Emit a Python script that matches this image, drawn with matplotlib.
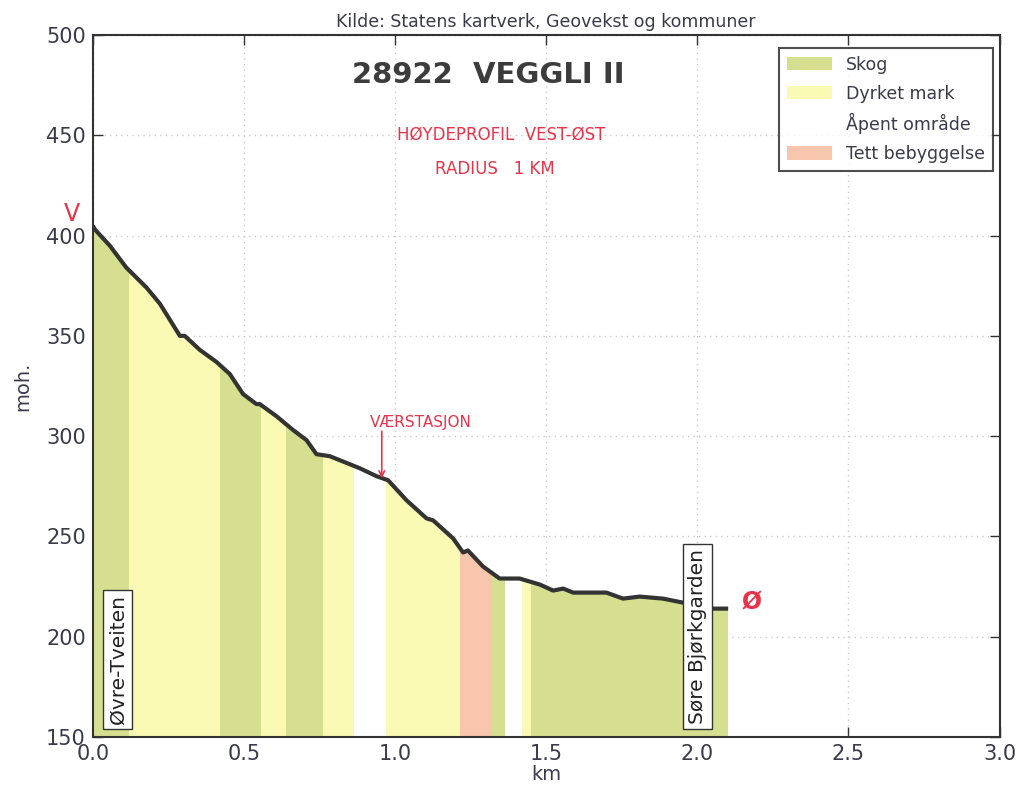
import matplotlib
matplotlib.use("Agg")
import matplotlib.pyplot as plt
from matplotlib.patches import Patch
import numpy as np

# Elevation profile (km, moh.)
dist_km = [0.0, 0.007, 0.056, 0.111, 0.178, 0.222, 0.288, 0.304, 0.354, 0.409,
           0.453, 0.497, 0.541, 0.552, 0.607, 0.663, 0.707, 0.740, 0.784, 0.850,
           0.883, 0.939, 0.977, 1.038, 1.104, 1.126, 1.192, 1.225, 1.241, 1.291,
           1.346, 1.412, 1.479, 1.523, 1.556, 1.589, 1.655, 1.699, 1.754, 1.809,
           1.886, 1.952, 2.030, 2.102]
elev_m = [405, 403, 395, 384, 374, 366, 350, 350, 343, 337,
          331, 321, 316, 316, 310, 303, 298, 291, 290, 286,
          284, 280, 278, 268, 259, 258, 249, 242, 243, 235,
          229, 229, 226, 223, 224, 222, 222, 222, 219, 220,
          219, 217, 214, 214]

# Land-cover segments along the profile
seg_start = [0.0, 0.12, 0.42, 0.555, 0.64, 0.76, 0.865, 0.97, 1.215, 1.32, 1.365, 1.42, 1.45]
seg_end = [0.12, 0.42, 0.555, 0.64, 0.76, 0.865, 0.97, 1.215, 1.32, 1.365, 1.42, 1.45, 2.102]
seg_class = ["Skog", "Dyrket mark", "Skog", "Dyrket mark", "Skog", "Dyrket mark",
             "Åpent område", "Dyrket mark", "Tett bebyggelse", "Skog", "Åpent område",
             "Dyrket mark", "Skog"]

classes = ["Skog", "Dyrket mark", "Åpent område", "Tett bebyggelse"]
class_colors = {"Skog": "#d6df90", "Dyrket mark": "#fafab4",
                "Åpent område": "#ffffff", "Tett bebyggelse": "#f7c6ac"}

places = ["Øvre-Tveiten", "Søre Bjørkgarden"]
place_km = [0.083, 2.0]

fig = plt.figure(figsize=(10.2, 7.99), dpi=100)
ax = fig.add_axes([0.091, 0.0776, 0.889, 0.8786])

ax.set_xlim(0, 3.0)
ax.set_ylim(150, 500)

# polygon under profile used as clip
poly = ax.fill_between(dist_km, 150, elev_m, facecolor="none", edgecolor="none")
clip = poly.get_paths()[0]
for s, e, c in zip(seg_start, seg_end, seg_class):
    sp = ax.axvspan(s, e, facecolor=class_colors[c], edgecolor="none", zorder=1)
    sp.set_clip_path(clip, transform=poly.get_transform())

ax.plot(dist_km, elev_m, color="#333333", lw=3, zorder=3, solid_capstyle="butt")

ax.grid(True, color="#cccccc", linestyle=(0, (1, 3)), lw=1)
ax.set_axisbelow(True)
ax.set_xticks([0.0, 0.5, 1.0, 1.5, 2.0, 2.5, 3.0])
ax.set_yticks([150, 200, 250, 300, 350, 400, 450, 500])
ax.tick_params(direction="in", top=True, right=True, length=7, width=1,
               labelsize=15, labelcolor="#3a3a4a", color="#333333", pad=5)
for sp in ax.spines.values():
    sp.set_color("#333333")
    sp.set_linewidth(1.5)

ax.set_xlabel("km", fontsize=14, color="#3a3a4a", labelpad=1)
ax.set_ylabel("moh.", fontsize=14, color="#3a3a4a", labelpad=10)
ax.set_title("Kilde: Statens kartverk, Geovekst og kommuner", fontsize=12.5,
             color="#3a3a4a", pad=6)

for name, xk in zip(places, place_km):
    ax.text(xk, 156.5, name, rotation=90, ha="center", va="bottom", fontsize=14.5,
            color="#222222", zorder=5,
            bbox=dict(boxstyle="square,pad=0.25", facecolor="white", edgecolor="#333333", lw=1))

handles = [Patch(facecolor=class_colors[c], edgecolor="none", label=c) for c in classes]
leg = ax.legend(handles=handles, loc="upper right", bbox_to_anchor=(0.9923, 0.9815),
                fontsize=12.5, frameon=True, fancybox=False, borderaxespad=0,
                handlelength=2.6, handleheight=0.8, labelspacing=0.62, borderpad=0.45)
leg.get_frame().set_edgecolor("#222222")
leg.get_frame().set_linewidth(1.5)
for t in leg.get_texts():
    t.set_color("#3a3a4a")

# handwritten annotations
ax.text(1.31, 480, "28922  VEGGLI II", ha="center", va="center", fontsize=21,
        color="#3c3c3c", fontweight="bold", zorder=6)
ax.text(1.35, 450.5, "HØYDEPROFIL  VEST-ØST", ha="center", va="center", fontsize=12,
        color="#e8334a", zorder=6)
ax.text(1.33, 433, "RADIUS   1 KM", ha="center", va="center", fontsize=12,
        color="#e8334a", zorder=6)
ax.text(0.915, 307, "VÆRSTASJON", ha="left", va="center", fontsize=11,
        color="#e8334a", zorder=6)
ax.annotate("", xy=(0.956, 279), xytext=(0.956, 302.5),
            arrowprops=dict(arrowstyle="->", color="#e8334a", lw=1.2,
                            shrinkA=0, shrinkB=0), zorder=6)
ax.text(-0.07, 411, "V", ha="center", va="center", fontsize=17, color="#e8334a",
        clip_on=False)
ax.text(2.18, 217, "Ø", ha="center", va="center", fontsize=17, color="#e8334a",
        fontweight="bold")

fig.savefig("out.png", dpi=100, facecolor="white")
